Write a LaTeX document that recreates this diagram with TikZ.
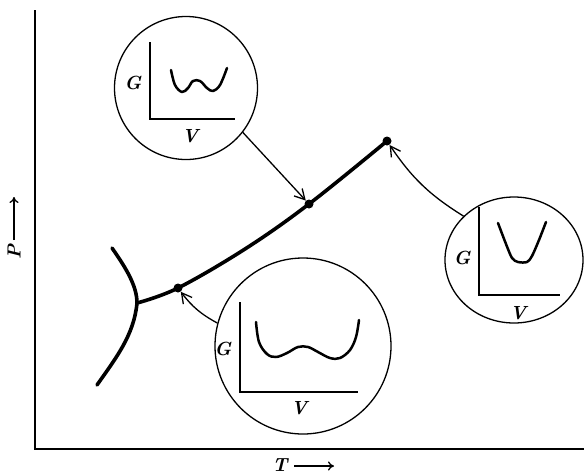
\documentclass[tikz,border=0pt]{standalone}
\usetikzlibrary{arrows.meta,shapes.geometric}
\begin{document}
\begin{tikzpicture}[x=1pt,y=-1pt,
  phase/.style={line width=3.6pt, line cap=round, line join=round},
  inset/.style={draw, line width=1.3pt, inner sep=0pt},
  gcurve/.style={line width=2.5pt, line cap=round, line join=round},
  gaxis/.style={line width=1.7pt},
  lbl/.style={font=\fontsize{19}{22}\selectfont\bfseries\itshape, inner sep=0pt},
  dot/.style={circle, fill, inner sep=0pt, minimum size=9pt},
  pointer/.style={line width=1.3pt, -{Straight Barb[length=10pt,width=11pt,line width=1.3pt]}},
  axarrow/.style={line width=1.3pt, -{To[length=6pt,width=9pt]}}
]
\useasboundingbox (0,0) rectangle (584,475);
% main axes
\draw[line width=2pt] (35,10) -- (35,449) -- (584,449);
% axis labels
\node[lbl, rotate=90] (plbl) at (14,252) {P};
\coordinate (ptail) at (14,240);
\coordinate (ptip) at (14,197);
\draw[axarrow] (ptail) -- (ptip);
\node[lbl] (tlbl) at (280,465) {T};
\coordinate (ttail) at (294,466);
\coordinate (ttip) at (334,466);
\draw[axarrow] (ttail) -- (ttip);
% phase boundaries
\coordinate (tp) at (137,303);
\draw[phase] (112,248) .. controls (126,268) and (137,286) .. (tp);
\draw[phase] (tp) .. controls (134,335) and (116,358) .. (97,385);
\draw[phase] plot[smooth, tension=0.6] coordinates {(137,303) (178,288) (245,249) (309,204) (387,141)};
\node[dot] (d1) at (178,288) {};
\node[dot] (d2) at (309,204) {};
\node[dot] (d3) at (387,141) {};
% inset circles
\node[inset, circle, minimum size=143pt] (c1) at (186,88) {};
\node[inset, ellipse, minimum width=138pt, minimum height=126pt] (c2) at (514,260) {};
\node[inset, circle, minimum size=176pt] (c3) at (303,346) {};
% inset 1
\draw[gaxis] (150,42) -- (150,119) -- (235,119);
\node[lbl] (g1) at (133,83) {G};
\node[lbl] (v1) at (190,136) {V};
\draw[gcurve] plot[smooth, tension=0.6] coordinates {(171,70) (175,85) (182,92) (188,88) (193,81) (200,81) (207,88) (213,91) (220,85) (227,68)};
% inset 2
\draw[gaxis] (479,207) -- (479,295) -- (560,295);
\node[lbl] (g2) at (462,258) {G};
\node[lbl] (v2) at (518,313) {V};
\draw[gcurve] plot[smooth, tension=0.5] coordinates {(498,223) (506,244) (512,258) (518,262) (527,262) (532,256) (539,240) (546,222)};
% inset 3
\draw[gaxis] (240,302) -- (240,392) -- (358,392);
\node[lbl] (g3) at (223,349) {G};
\node[lbl] (v3) at (299,408) {V};
\draw[gcurve] plot[smooth, tension=0.6] coordinates {(256,322) (259,342) (267,354) (276,357) (287,353) (298,347) (308,347) (318,352) (330,358) (340,358) (350,350) (356,337) (359,320)};
% pointers
\draw[pointer] (c1.-38) -- (d2);
\draw[pointer] (c2.139) to[bend left=12] (d3);
\draw[pointer] (c3.165) to[bend left=12] (d1);
\end{tikzpicture}
\end{document}
